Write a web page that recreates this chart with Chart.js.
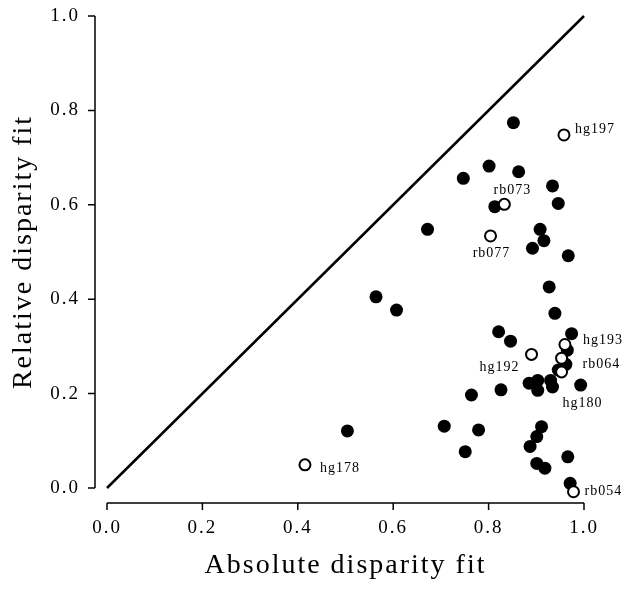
<!DOCTYPE html>
<html>
<head>
<meta charset="utf-8">
<script src="https://cdn.jsdelivr.net/npm/chart.js@4/dist/chart.umd.min.js"></script>
<style>
  html, body { margin: 0; padding: 0; background: #fff; }
  #wrap { width: 625px; height: 593px; }
</style>
</head>
<body>
<div id="wrap"><canvas id="fitChart"></canvas></div>
<script>
// Units: absolute disparity fit (x) against relative disparity fit (y)
const filledAbs = [0.852, 0.801, 0.863, 0.747, 0.934, 0.813, 0.946, 0.672, 0.908, 0.916,
                   0.892, 0.967, 0.927, 0.564, 0.607, 0.939, 0.974, 0.821, 0.846, 0.965,
                   0.962, 0.885, 0.903, 0.903, 0.930, 0.934, 0.946, 0.993, 0.826, 0.764,
                   0.504, 0.707, 0.779, 0.751, 0.911, 0.901, 0.887, 0.901, 0.918, 0.966,
                   0.971];
const filledRel = [0.774, 0.682, 0.670, 0.656, 0.640, 0.596, 0.603, 0.548, 0.548, 0.524,
                   0.508, 0.492, 0.426, 0.405, 0.377, 0.370, 0.327, 0.331, 0.311, 0.292,
                   0.262, 0.222, 0.228, 0.207, 0.228, 0.214, 0.250, 0.218, 0.208, 0.197,
                   0.121, 0.131, 0.123, 0.077, 0.130, 0.109, 0.088, 0.052, 0.042, 0.066,
                   0.010];

// Named units, drawn as open circles
const openNames = ['hg197', 'rb073', 'rb077', 'hg193', 'hg192', 'rb064', 'hg180', 'hg178', 'rb054'];
const openAbs = [0.958, 0.833, 0.804, 0.960, 0.890, 0.953, 0.953, 0.415, 0.978];
const openRel = [0.748, 0.601, 0.534, 0.304, 0.283, 0.275, 0.246, 0.049, -0.008];

// Identity line
const unityAbs = [0, 1];
const unityRel = [0, 1];

const tickValues = [0, 0.2, 0.4, 0.6, 0.8, 1.0];

// Where each name sits relative to its circle: [dx, dy, align]
const labelPlacement = {
  hg197: [11, -6, 'left'],
  rb073: [8, -14, 'center'],
  rb077: [1, 17, 'center'],
  hg193: [18, -4, 'left'],
  hg192: [-12, 13, 'right'],
  rb064: [21, 6, 'left'],
  hg180: [21, 31, 'center'],
  hg178: [15, 3, 'left'],
  rb054: [11, 0, 'left']
};

const toPoints = (xs, ys) => xs.map((v, i) => ({x: v, y: ys[i]}));

// Spaced-out lettering like the printed figure
const spacing = {
  id: 'spacing',
  beforeDraw(chart) {
    chart.ctx.letterSpacing = '2px';
  }
};

// Axis lines set off from the plotting area, ticks pointing outward
const offsetAxes = {
  id: 'offsetAxes',
  afterDraw(chart) {
    const {ctx, chartArea, scales: {x, y}} = chart;
    const yLineX = chartArea.left - 12;
    const xLineY = chartArea.bottom + 15;
    ctx.save();
    ctx.strokeStyle = '#000';
    ctx.lineWidth = 1.5;
    ctx.beginPath();
    ctx.moveTo(yLineX, y.getPixelForValue(1));
    ctx.lineTo(yLineX, y.getPixelForValue(0));
    tickValues.forEach(v => {
      const py = y.getPixelForValue(v);
      ctx.moveTo(yLineX - 7, py);
      ctx.lineTo(yLineX, py);
    });
    ctx.moveTo(x.getPixelForValue(0), xLineY);
    ctx.lineTo(x.getPixelForValue(1), xLineY);
    tickValues.forEach(v => {
      const px = x.getPixelForValue(v);
      ctx.moveTo(px, xLineY);
      ctx.lineTo(px, xLineY + 7);
    });
    ctx.stroke();
    ctx.restore();
  }
};

// Names next to the open circles
const unitLabels = {
  id: 'unitLabels',
  afterDatasetsDraw(chart) {
    const {ctx} = chart;
    const meta = chart.getDatasetMeta(0);
    ctx.save();
    ctx.font = '14px "Liberation Serif", "Times New Roman", serif';
    ctx.letterSpacing = '1px';
    ctx.fillStyle = '#000';
    ctx.textBaseline = 'middle';
    meta.data.forEach((pt, i) => {
      const [dx, dy, align] = labelPlacement[openNames[i]];
      ctx.textAlign = align;
      ctx.fillText(openNames[i], pt.x + dx, pt.y + dy);
    });
    ctx.restore();
  }
};

const serif = '"Liberation Serif", "Times New Roman", serif';

new Chart(document.getElementById('fitChart'), {
  type: 'scatter',
  data: {
    datasets: [
      {
        label: 'named',
        data: toPoints(openAbs, openRel),
        pointRadius: 5.5,
        pointHoverRadius: 5.5,
        pointBackgroundColor: '#fff',
        pointBorderColor: '#000',
        pointBorderWidth: 2,
        clip: false
      },
      {
        label: 'units',
        data: toPoints(filledAbs, filledRel),
        pointRadius: 6.5,
        pointHoverRadius: 6.5,
        pointBackgroundColor: '#000',
        pointBorderWidth: 0,
        clip: false
      },
      {
        type: 'line',
        label: 'unity',
        data: toPoints(unityAbs, unityRel),
        borderColor: '#000',
        borderWidth: 2.5,
        pointRadius: 0,
        fill: false,
        clip: false
      }
    ]
  },
  options: {
    responsive: true,
    maintainAspectRatio: false,
    devicePixelRatio: 1,
    animation: false,
    events: [],
    layout: {
      padding: {left: 0, top: 16, right: 41, bottom: 0}
    },
    plugins: {
      legend: {display: false},
      tooltip: {enabled: false}
    },
    scales: {
      x: {
        type: 'linear',
        min: 0,
        max: 1,
        grid: {display: false, drawTicks: false, tickLength: 0},
        border: {display: false},
        ticks: {
          stepSize: 0.2,
          padding: 29,
          color: '#000',
          font: {family: serif, size: 19},
          maxRotation: 0,
          callback: v => v.toFixed(1)
        },
        title: {
          display: true,
          text: 'Absolute disparity fit',
          color: '#000',
          font: {family: serif, size: 28},
          padding: {top: 0, bottom: 11}
        },
        afterFit: scale => { scale.height = 105; }
      },
      y: {
        type: 'linear',
        min: 0,
        max: 1,
        grid: {display: false, drawTicks: false, tickLength: 0},
        border: {display: false},
        ticks: {
          stepSize: 0.2,
          padding: 27,
          color: '#000',
          font: {family: serif, size: 19},
          callback: v => v.toFixed(1)
        },
        title: {
          display: true,
          text: 'Relative disparity fit',
          color: '#000',
          font: {family: serif, size: 28},
          padding: {top: 7, bottom: 0}
        },
        afterFit: scale => {
          // tick padding would otherwise push the plot area down
          scale.width = 107;
          scale.paddingTop = 0;
          scale.paddingBottom = 0;
        }
      }
    }
  },
  plugins: [spacing, offsetAxes, unitLabels]
});
</script>
</body>
</html>
